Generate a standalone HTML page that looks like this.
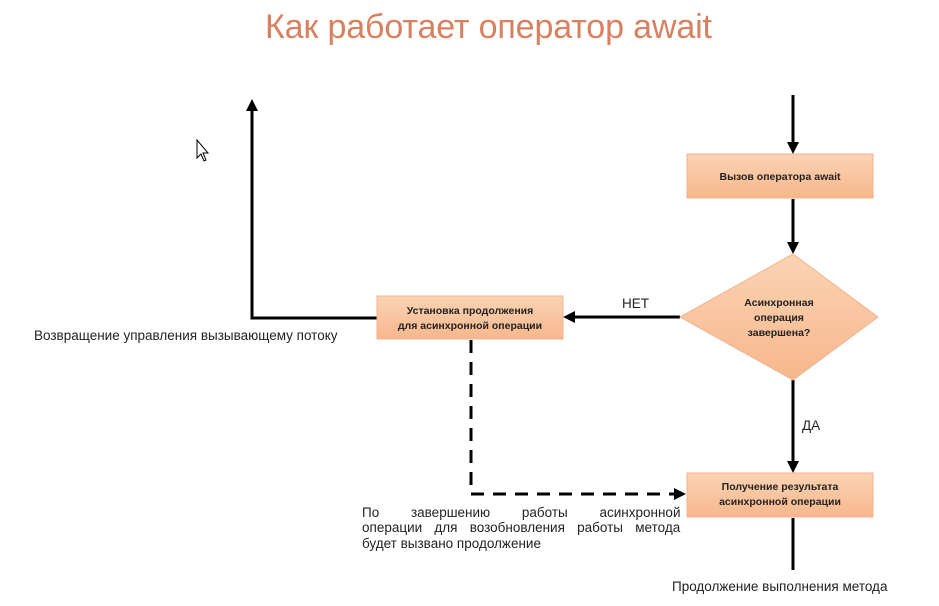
<!DOCTYPE html>
<html><head><meta charset="utf-8"><style>
html,body{margin:0;padding:0;background:#fff;}
svg{display:block;font-family:"Liberation Sans","DejaVu Sans",sans-serif;}
</style></head><body>
<svg width="939" height="606" viewBox="0 0 939 606" xmlns="http://www.w3.org/2000/svg">
<defs>
<linearGradient id="g" x1="0" y1="0" x2="0" y2="1">
<stop offset="0" stop-color="#fbd3b4"/><stop offset="1" stop-color="#f7b78c"/>
</linearGradient>
<marker id="a" markerWidth="12" markerHeight="12" refX="9" refY="6" orient="auto" markerUnits="userSpaceOnUse">
<path d="M0,0 L12,6 L0,12 Z" fill="#000"/></marker>
</defs>
<text x="265" y="38" font-size="34" fill="#d8805f" textLength="447" lengthAdjust="spacing">Как работает оператор await</text>

<g stroke="#000" stroke-width="3" fill="none">
<line x1="793" y1="95" x2="793" y2="151" marker-end="url(#a)"/>
<line x1="793" y1="199" x2="793" y2="251" marker-end="url(#a)"/>
<line x1="680" y1="317" x2="566" y2="317" marker-end="url(#a)"/>
<line x1="793" y1="380" x2="793" y2="470" marker-end="url(#a)"/>
<line x1="793" y1="518" x2="793" y2="570"/>
<polyline points="377,318 252,318 252,102" marker-end="url(#a)"/>
<polyline points="471,340 471,494 683,494" stroke-dasharray="13,9" marker-end="url(#a)"/>
</g>

<g stroke="#f2b38c" stroke-width="1" fill="url(#g)">
<rect x="687" y="154" width="186" height="44"/>
<rect x="377" y="296" width="186" height="43"/>
<rect x="687" y="473" width="186" height="44"/>
<polygon points="793,254 878,317 793,380 680,317"/>
</g>

<g font-size="10.5" font-weight="bold" fill="#222" text-anchor="middle">
<text x="780" y="180">Вызов оператора await</text>
<text x="470" y="314">Установка продолжения</text>
<text x="470" y="329">для асинхронной операции</text>
<text x="780" y="490">Получение результата</text>
<text x="780" y="505">асинхронной операции</text>
<text x="779" y="306">Асинхронная</text>
<text x="779" y="321">операция</text>
<text x="779" y="336">завершена?</text>
</g>
<g font-size="13.5" fill="#222">
<text x="622" y="308">НЕТ</text>
<text x="802" y="430">ДА</text>
<text x="34" y="340">Возвращение управления вызывающему потоку</text>
<text x="362" y="517" word-spacing="28">По завершению работы асинхронной</text>
<text x="362" y="532" word-spacing="8.5">операции для возобновления работы метода</text>
<text x="362" y="548">будет вызвано продолжение</text>
<text x="672" y="591">Продолжение выполнения метода</text>
</g>
<path d="M197,140 L197,158 L201,154 L204,161 L206,160 L203,153 L208,153 Z" fill="#fff" stroke="#000" stroke-width="1"/>
</svg>
</body></html>
